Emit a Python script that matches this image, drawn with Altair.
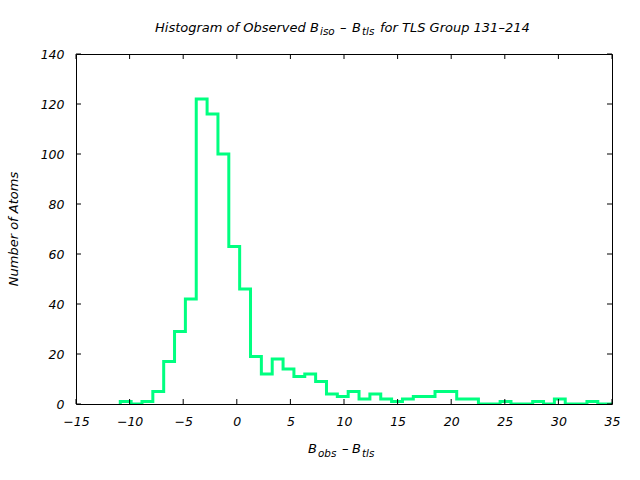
import altair as alt
import pandas as pd

# ---- data ----
bin_start = -10.87
bin_width = 1.0124
counts = [1, 0, 1, 5, 17, 29, 42, 122, 116, 100, 63, 46, 19, 12, 18, 14, 11, 12, 9, 4,
          3, 5, 2, 4, 2, 1, 2, 3, 3, 5, 5, 2, 2, 0, 0, 1, 0, 0, 1, 0, 2, 0, 0, 1, 0, 0]
x_ticks = [-15, -10, -5, 0, 5, 10, 15, 20, 25, 30, 35]
y_ticks = [0, 20, 40, 60, 80, 100, 120, 140]

W, H = 536, 350
FONT = "DejaVu Sans"
GREEN = "#00ff80"
FS = 13      # title font size
SUB = 10.4   # subscript font size

edges = [bin_start + i * bin_width for i in range(len(counts) + 1)]
xs = [edges[0]] + edges
ys = [0] + counts + [counts[-1]]
steps = pd.DataFrame({"x": xs, "y": ys, "i": list(range(len(xs)))})

xscale = alt.Scale(domain=[-15, 35], nice=False, zero=False)
yscale = alt.Scale(domain=[0, 140], nice=False)

x_axis = alt.Axis(values=x_ticks, ticks=False, domain=False, grid=False,
                  labelFont=FONT, labelFontStyle="italic", labelFontSize=12.5,
                  labelColor="black", labelPadding=11, title=None,
                  labelFlush=False, labelOverlap=False)
y_axis = alt.Axis(values=y_ticks, ticks=False, domain=False, grid=False,
                  labelFont=FONT, labelFontStyle="italic", labelFontSize=12.5,
                  labelColor="black", labelPadding=12, title=None,
                  labelFlush=False, labelOverlap=False)

line = alt.Chart(steps).mark_line(
    interpolate="step-after", color=GREEN, strokeWidth=3, clip=True
).encode(
    x=alt.X("x:Q", scale=xscale, axis=x_axis),
    y=alt.Y("y:Q", scale=yscale, axis=y_axis),
    order="i:Q",
)

xt = pd.DataFrame({"t": x_ticks})
yt = pd.DataFrame({"t": y_ticks})
tick_bottom = alt.Chart(xt).mark_rule(color="black", strokeWidth=1).encode(
    x=alt.X("t:Q", scale=xscale, axis=x_axis), y=alt.value(H), y2=alt.value(H - 5))
tick_top = alt.Chart(xt).mark_rule(color="black", strokeWidth=1).encode(
    x=alt.X("t:Q", scale=xscale, axis=x_axis), y=alt.value(0), y2=alt.value(5))
tick_left = alt.Chart(yt).mark_rule(color="black", strokeWidth=1).encode(
    y=alt.Y("t:Q", scale=yscale, axis=y_axis), x=alt.value(0), x2=alt.value(5))
tick_right = alt.Chart(yt).mark_rule(color="black", strokeWidth=1).encode(
    y=alt.Y("t:Q", scale=yscale, axis=y_axis), x=alt.value(W), x2=alt.value(W - 5))

one = pd.DataFrame({"a": [0]})


def txt(s, x, y, size=FS, angle=0, align="left", baseline="alphabetic"):
    return alt.Chart(one).mark_text(
        text=s, font=FONT, fontStyle="italic", fontSize=size, color="black",
        align=align, baseline=baseline, angle=angle
    ).encode(x=alt.value(x), y=alt.value(y))


OX, OY = 76, 54  # plot-area origin in page pixels
TB, TS = 32, 35      # title baselines (main / subscript)
XB, XS = 453, 457    # x-title baselines
texts = [
    txt("Histogram of Observed B", 155 - OX, TB - OY),
    txt("iso", 320 - OX, TS - OY, size=SUB),
    txt("\u2013", 340 - OX, TB - OY),
    txt("B", 352 - OX, TB - OY),
    txt("tls", 362 - OX, TS - OY, size=SUB),
    txt("for TLS Group 131\u2013214", 380 - OX, TB - OY),
    txt("B", 308 - OX, XB - OY),
    txt("obs", 318 - OX, XS - OY, size=SUB),
    txt("\u2013", 342 - OX, XB - OY),
    txt("B", 352 - OX, XB - OY),
    txt("tls", 362 - OX, XS - OY, size=SUB),
    txt("Number of Atoms", 14 - OX, 229 - OY, angle=270, align="center", baseline="middle"),
]

chart = alt.layer(line, tick_bottom, tick_top, tick_left, tick_right, *texts).properties(
    width=W, height=H,
    autosize=alt.AutoSizeParams(type="none"),
    padding={"left": OX, "top": OY, "right": 640 - OX - W, "bottom": 480 - OY - H},
    background="white",
).configure_view(stroke="black", strokeWidth=1)

chart.save("out.html", embed_options={"renderer": "svg", "actions": False})
